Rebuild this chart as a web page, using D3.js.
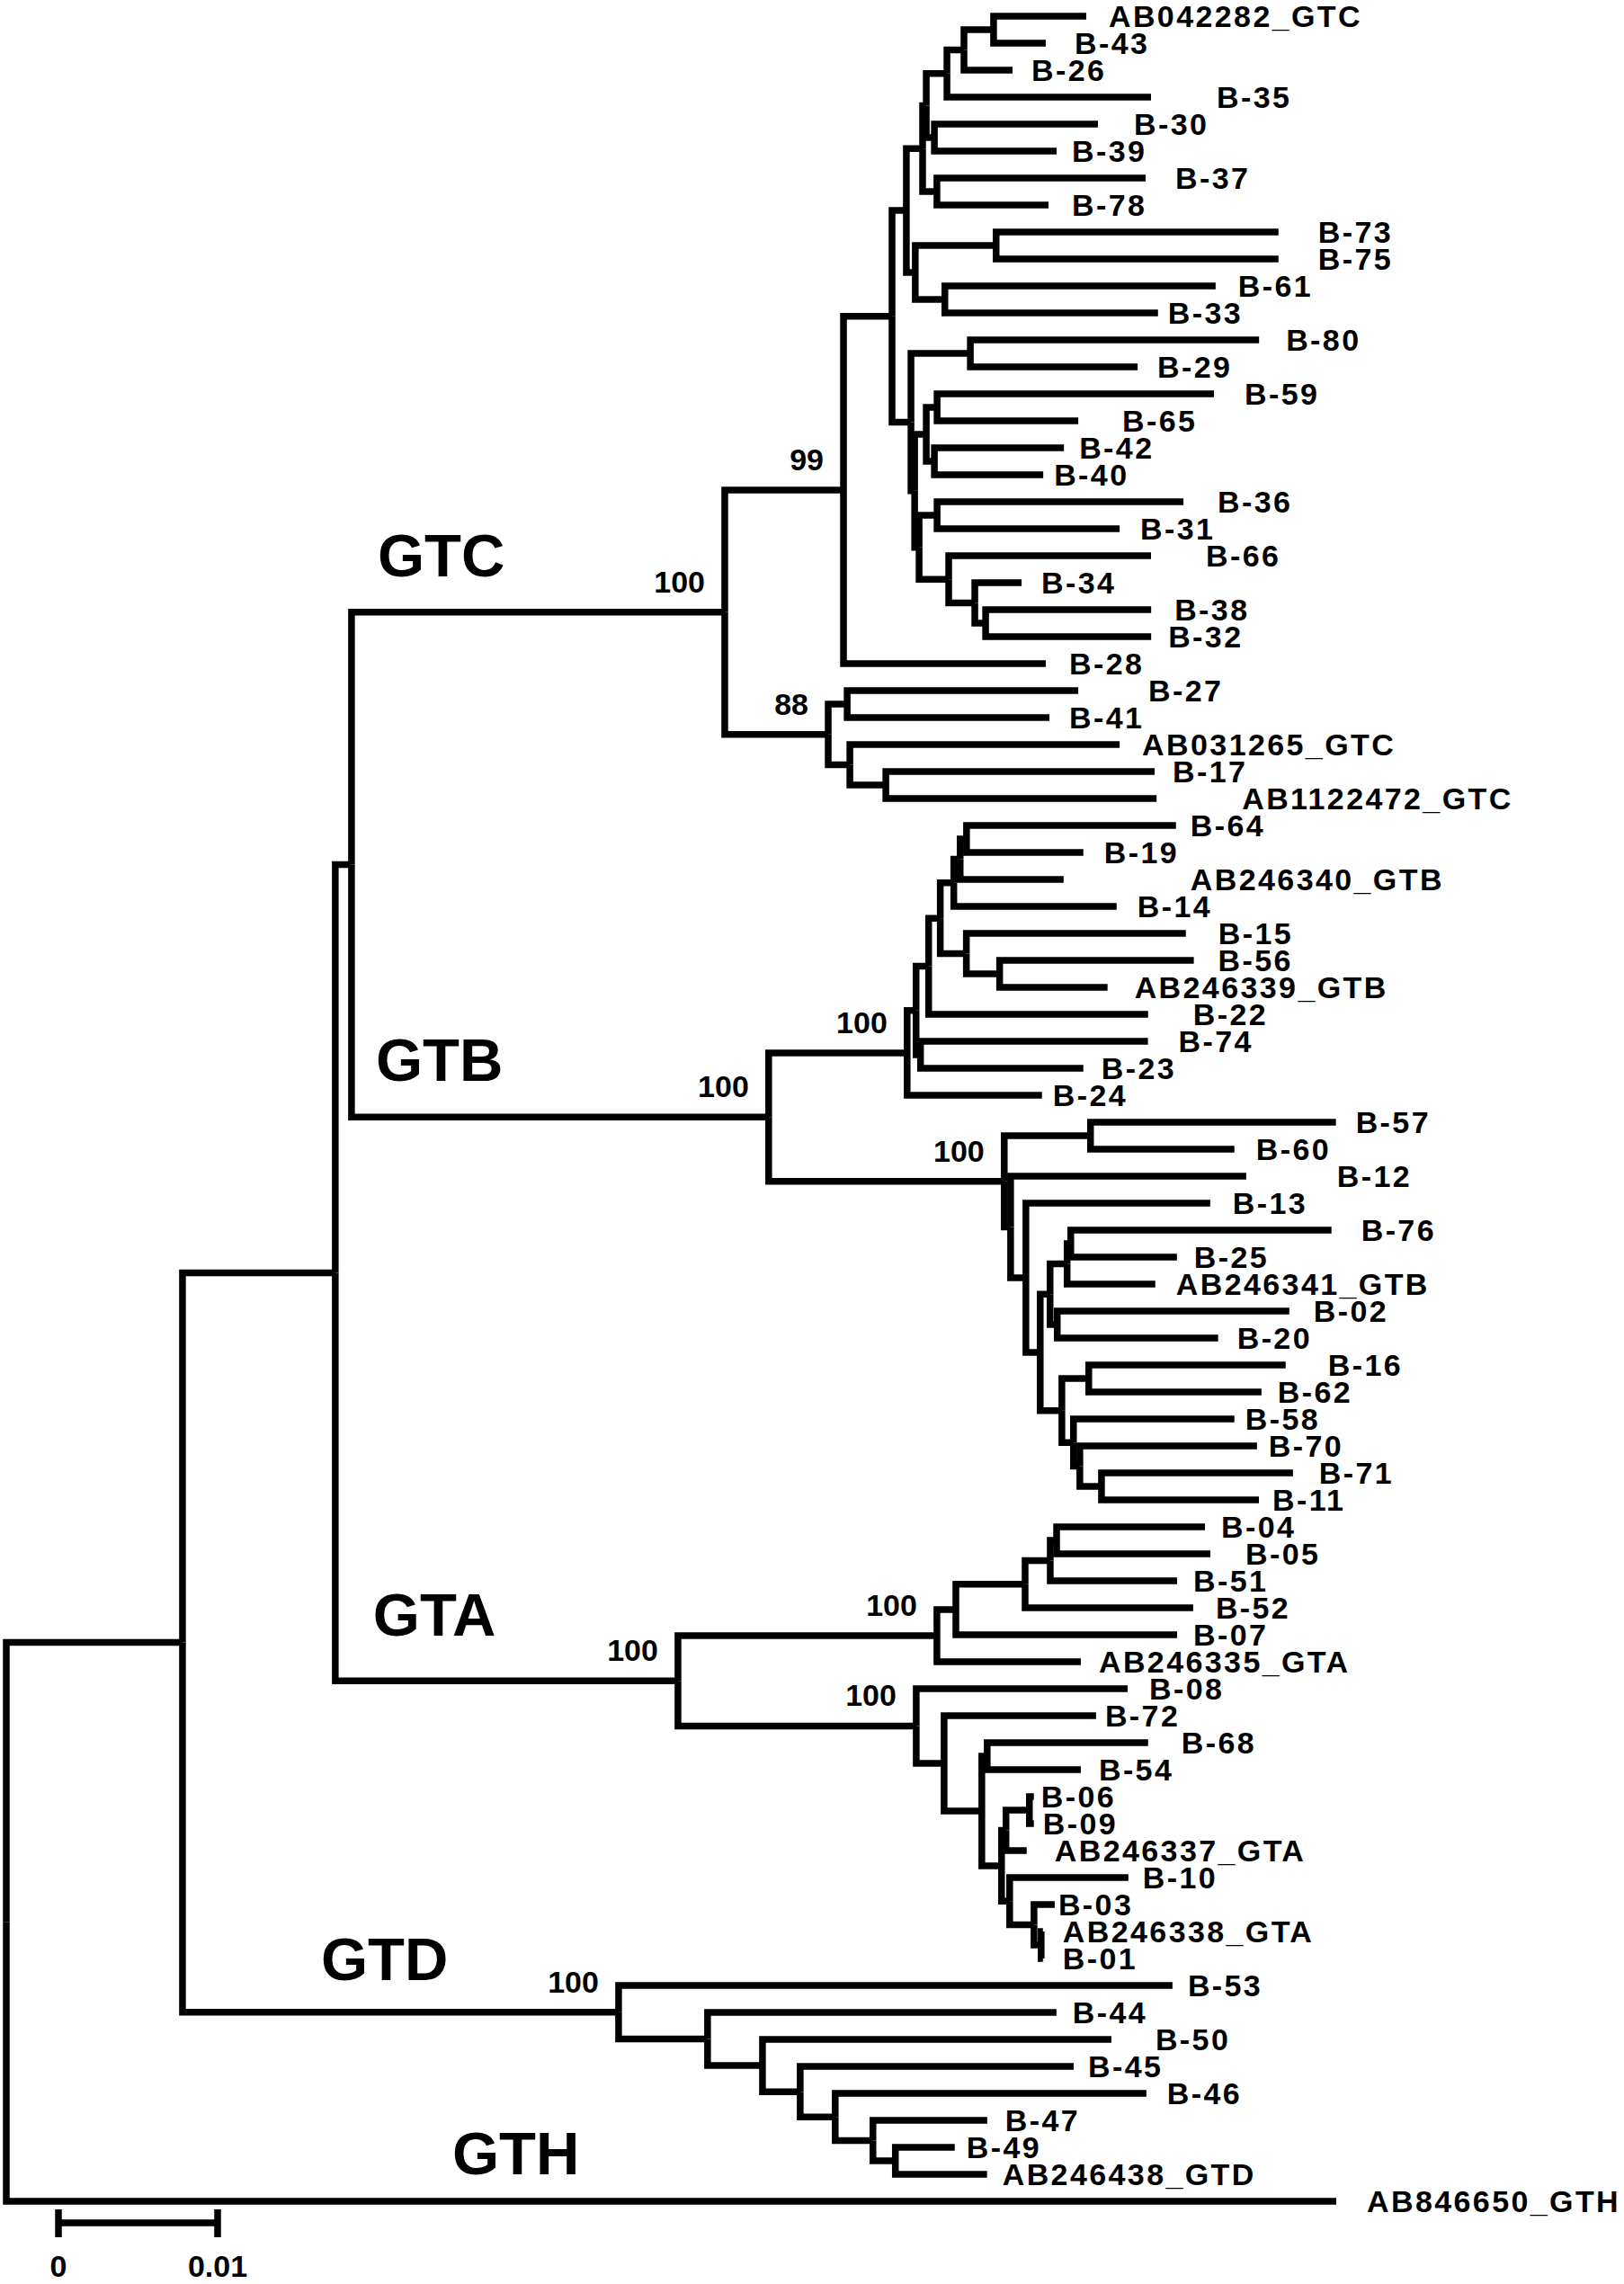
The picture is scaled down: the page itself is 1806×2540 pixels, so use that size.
<!DOCTYPE html>
<html>
<head>
<meta charset="utf-8">
<script src="https://cdn.jsdelivr.net/npm/d3@7"></script>
<style>
  body { margin: 0; background: #fff; }
  text { font-family: "Liberation Sans", Arial, sans-serif; font-weight: bold; fill: #000; }
</style>
</head>
<body>
<div id="chart"></div>
<script>
// tree as [node, parent, branch length] (children listed top to bottom)
const edges = [
  ["root", "", 0],
  ["n1", "root", 0.01107],
  ["n2", "n1", 0.00960],
  ["n3", "n2", 0.00102],
  // GTC
  ["cGTC", "n3", 0.02345],
  ["c99", "cGTC", 0.00746],
  ["N5", "c99", 0.00305],
  ["N3", "N5", 0.00090],
  ["N1", "N3", 0.00102],
  ["N2", "N1", 0.00023],
  ["Na", "N2", 0.00130],
  ["Nb", "Na", 0.00107],
  ["Nc", "Nb", 0.00186],
  ["AB042282_GTC", "Nc", 0.00582],
  ["B-43", "Nc", 0.00328],
  ["B-26", "Nb", 0.00305],
  ["B-35", "Na", 0.01282],
  ["Nd", "N2", 0.00051],
  ["B-30", "Nd", 0.01028],
  ["B-39", "Nd", 0.00768],
  ["Ne", "N1", 0.00090],
  ["B-37", "Ne", 0.01311],
  ["B-78", "Ne", 0.00701],
  ["N4", "N3", 0.00056],
  ["Nf", "N4", 0.00508],
  ["B-73", "Nf", 0.01774],
  ["B-75", "Nf", 0.01774],
  ["Ng", "N4", 0.00186],
  ["B-61", "Ng", 0.01701],
  ["B-33", "Ng", 0.01339],
  ["N6", "N5", 0.00119],
  ["Nh", "N6", 0.00373],
  ["B-80", "Nh", 0.01814],
  ["B-29", "Nh", 0.01051],
  ["N6b", "N6", 0.00023],
  ["N7", "N6b", 0.00073],
  ["Ni", "N7", 0.00068],
  ["B-59", "Ni", 0.01740],
  ["B-65", "Ni", 0.00887],
  ["Nj", "N7", 0.00051],
  ["B-42", "Nj", 0.00814],
  ["B-40", "Nj", 0.00684],
  ["N9", "N6b", 0.00028],
  ["Nk", "N9", 0.00113],
  ["B-36", "Nk", 0.01548],
  ["B-31", "Nk", 0.01147],
  ["N10", "N9", 0.00186],
  ["B-66", "N10", 0.01271],
  ["N11", "N10", 0.00164],
  ["B-34", "N11", 0.00294],
  ["N12", "N11", 0.00068],
  ["B-38", "N12", 0.01040],
  ["B-32", "N12", 0.01040],
  ["B-28", "c99", 0.01271],
  ["c88", "cGTC", 0.00650],
  ["Nl", "c88", 0.00119],
  ["B-27", "Nl", 0.01452],
  ["B-41", "Nl", 0.01271],
  ["Nm", "c88", 0.00136],
  ["AB031265_GTC", "Nm", 0.01695],
  ["Nn", "Nm", 0.00226],
  ["B-17", "Nn", 0.01689],
  ["AB1122472_GTC", "Nn", 0.01701],
  // GTB
  ["cGTB", "n3", 0.02621],
  ["P7", "cGTB", 0.00870],
  ["P6", "P7", 0.00056],
  ["P5", "P6", 0.00079],
  ["P4", "P5", 0.00073],
  ["P3", "P4", 0.00085],
  ["P2", "P3", 0.00040],
  ["P1", "P2", 0.00040],
  ["B-64", "P1", 0.01316],
  ["B-19", "P1", 0.00734],
  ["AB246340_GTB", "P2", 0.00650],
  ["B-14", "P3", 0.01023],
  ["Po", "P4", 0.00164],
  ["B-15", "Po", 0.01379],
  ["Pp", "Po", 0.00209],
  ["B-56", "Pp", 0.01220],
  ["AB246339_GTB", "Pp", 0.00678],
  ["B-22", "P5", 0.01379],
  ["Q", "P6", 0.00028],
  ["B-74", "Q", 0.01429],
  ["B-23", "Q", 0.01023],
  ["B-24", "P7", 0.00847],
  ["R11", "cGTB", 0.01480],
  ["Rq", "R11", 0.00542],
  ["B-57", "Rq", 0.01542],
  ["B-60", "Rq", 0.00904],
  ["R10", "R11", 0.00040],
  ["B-12", "R10", 0.01480],
  ["R9", "R10", 0.00096],
  ["B-13", "R9", 0.01158],
  ["R5", "R9", 0.00090],
  ["R4", "R5", 0.00062],
  ["R2", "R4", 0.00107],
  ["R1", "R2", 0.00023],
  ["B-76", "R1", 0.01638],
  ["B-25", "R1", 0.00667],
  ["AB246341_GTB", "R2", 0.00554],
  ["R3", "R4", 0.00045],
  ["B-02", "R3", 0.01458],
  ["B-20", "R3", 0.01011],
  ["R6", "R5", 0.00136],
  ["Rr", "R6", 0.00169],
  ["B-16", "Rr", 0.01237],
  ["B-62", "Rr", 0.01085],
  ["R7", "R6", 0.00073],
  ["B-58", "R7", 0.01011],
  ["R8", "R7", 0.00040],
  ["B-70", "R8", 0.01113],
  ["Rs", "R8", 0.00136],
  ["B-71", "Rs", 0.01203],
  ["B-11", "Rs", 0.00989],
  // GTA
  ["cGTA", "n2", 0.02153],
  ["S1", "cGTA", 0.01627],
  ["S2", "S1", 0.00119],
  ["S3", "S2", 0.00435],
  ["S4", "S3", 0.00158],
  ["S5", "S4", 0.00040],
  ["B-04", "S5", 0.00932],
  ["B-05", "S5", 0.00966],
  ["B-51", "S4", 0.00797],
  ["B-52", "S3", 0.01056],
  ["B-07", "S2", 0.01390],
  ["AB246335_GTA", "S1", 0.00904],
  ["T1", "cGTA", 0.01497],
  ["B-08", "T1", 0.01328],
  ["T2", "T1", 0.00175],
  ["B-72", "T2", 0.00955],
  ["T3", "T2", 0.00237],
  ["T4", "T3", 0.00034],
  ["B-68", "T4", 0.01011],
  ["B-54", "T4", 0.00588],
  ["T5", "T3", 0.00124],
  ["T6", "T5", 0.00028],
  ["T8", "T6", 0.00147],
  ["B-06", "T8", 0.00028],
  ["B-09", "T8", 0.00028],
  ["AB246337_GTA", "T6", 0.00130],
  ["T7", "T5", 0.00051],
  ["B-10", "T7", 0.00746],
  ["T9", "T7", 0.00153],
  ["B-03", "T9", 0.00130],
  ["T10", "T9", 0.00045],
  ["AB246338_GTA", "T10", 0.00011],
  ["B-01", "T10", 0.00011],
  // GTD
  ["cGTD", "n1", 0.02740],
  ["B-53", "cGTD", 0.03480],
  ["U1", "cGTD", 0.00559],
  ["B-44", "U1", 0.02192],
  ["U2", "U1", 0.00345],
  ["B-50", "U2", 0.02192],
  ["U3", "U2", 0.00237],
  ["B-45", "U3", 0.01718],
  ["U4", "U3", 0.00220],
  ["B-46", "U4", 0.01955],
  ["U5", "U4", 0.00237],
  ["B-47", "U5", 0.00718],
  ["U6", "U5", 0.00141],
  ["B-49", "U6", 0.00373],
  ["AB246438_GTD", "U6", 0.00576],
  // GTH
  ["AB846650_GTH", "root", 0.08356]
];

// bootstrap values on nodes
const bootstrap = [
  ["cGTC", 100], ["c99", 99], ["c88", 88],
  ["cGTB", 100], ["P7", 100], ["R11", 100],
  ["cGTA", 100], ["S1", 100], ["T1", 100],
  ["cGTD", 100]
];

// genotype labels: text, branch node
const genotypes = [
  ["GTC", "cGTC"], ["GTB", "cGTB"], ["GTA", "cGTA"], ["GTD", "cGTD"], ["GTH", "AB846650_GTH"]
];

const scaleTicks = [0, 0.01];

// --- layout tweaks (not data) ---
const genoOffset = { GTC: [29, -40], GTB: [27, -40], GTA: [42, -50], GTD: [154, -36], GTH: [496, -30] };
const labelGap = {
  "AB042282_GTC": 25, "B-43": 32, "B-26": 21, "B-35": 73, "B-30": 40, "B-39": 17, "B-37": 33, "B-78": 26,
  "B-73": 44, "B-75": 44, "B-61": 25, "B-33": 11, "B-80": 30, "B-29": 22, "B-59": 34, "B-65": 49,
  "B-42": 17, "B-40": 12, "B-36": 38, "B-31": 23, "B-66": 61, "B-34": 22, "B-38": 26, "B-32": 19,
  "B-28": 26, "B-27": 78, "B-41": 22, "AB031265_GTC": 25, "B-17": 20, "AB1122472_GTC": 95,
  "B-64": 16, "B-19": 23, "AB246340_GTB": 141, "B-14": 23, "B-15": 36, "B-56": 27, "AB246339_GTB": 30,
  "B-22": 50, "B-74": 34, "B-23": 20, "B-24": 12, "B-57": 22, "B-60": 24, "B-12": 101, "B-13": 25,
  "B-76": 33, "B-25": 19, "AB246341_GTB": 23, "B-02": 27, "B-20": 21, "B-16": 47, "B-62": 18,
  "B-58": 12, "B-70": 13, "B-71": 29, "B-11": 15, "B-04": 18, "B-05": 39, "B-51": 18, "B-52": 25,
  "B-07": 18, "AB246335_GTA": 20, "B-08": 24, "B-72": 10, "B-68": 37, "B-54": 20, "B-06": 8, "B-09": 10,
  "AB246337_GTA": 31, "B-10": 16, "B-03": 4, "AB246338_GTA": 22, "B-01": 22, "B-53": 17, "B-44": 18,
  "B-50": 49, "B-45": 16, "B-46": 23, "B-47": 20, "B-49": 13, "AB246438_GTD": 17, "AB846650_GTH": 34
};

const W = 1806, H = 2540;
const svg = d3.select("#chart").append("svg")
  .attr("width", W).attr("height", H)
  .style("background", "#fff");

const root = d3.stratify()
  .id(d => d[0])
  .parentId(d => d[1] || null)(edges);

root.eachBefore(d => { d.dist = d.parent ? d.parent.dist + d.data[2] : 0; });

const x = d3.scaleLinear().domain([0, 0.01]).range([7, 184]);
const leaves = root.leaves();
const y = d3.scalePoint().domain(leaves.map(d => d.id)).range([18, 2448]);

root.eachAfter(d => {
  d.px = x(d.dist);
  d.py = d.children
    ? (d.children[0].py + d.children[d.children.length - 1].py) / 2
    : y(d.id);
});

// branches (rectangular)
svg.append("g")
  .attr("fill", "none")
  .attr("stroke", "#000")
  .attr("stroke-width", 7.5)
  .attr("stroke-linejoin", "miter")
  .selectAll("path")
  .data(root.descendants().slice(1))
  .join("path")
  .attr("d", d => `M${d.parent.px},${d.parent.py}V${d.py}H${d.px}`);

// leaf names
svg.append("g")
  .selectAll("text")
  .data(leaves)
  .join("text")
  .attr("x", d => d.px + (labelGap[d.id] ?? 20))
  .attr("y", d => d.py + 12)
  .attr("font-size", 34)
  .attr("letter-spacing", 2.4)
  .text(d => d.id);

// bootstrap values
const byId = new Map(root.descendants().map(d => [d.id, d]));
svg.append("g")
  .selectAll("text")
  .data(bootstrap)
  .join("text")
  .attr("x", d => byId.get(d[0]).px - 22)
  .attr("y", d => byId.get(d[0]).py - 22)
  .attr("text-anchor", "end")
  .attr("font-size", 34)
  .text(d => d[1]);

// genotype names
svg.append("g")
  .selectAll("text")
  .data(genotypes)
  .join("text")
  .attr("x", d => byId.get(d[1]).parent.px + genoOffset[d[0]][0])
  .attr("y", d => byId.get(d[1]).py + genoOffset[d[0]][1])
  .attr("font-size", 67)
  .text(d => d[0]);

// scale bar
const barX = 65, barY = 2472;
const bx = d3.scaleLinear().domain([0, 0.01]).range([barX, barX + x(0.01) - x(0)]);
const bar = svg.append("g").attr("stroke", "#000").attr("stroke-width", 7.5);
bar.append("line")
  .attr("x1", bx(0)).attr("x2", bx(0.01))
  .attr("y1", barY).attr("y2", barY);
bar.selectAll("line.tick")
  .data(scaleTicks)
  .join("line")
  .attr("class", "tick")
  .attr("x1", d => bx(d)).attr("x2", d => bx(d))
  .attr("y1", barY - 15).attr("y2", barY + 16);
svg.append("g")
  .selectAll("text")
  .data(scaleTicks)
  .join("text")
  .attr("x", d => bx(d))
  .attr("y", 2532)
  .attr("text-anchor", "middle")
  .attr("font-size", 34)
  .text(d => d === 0 ? "0" : d3.format(".2f")(d));
</script>
</body>
</html>
